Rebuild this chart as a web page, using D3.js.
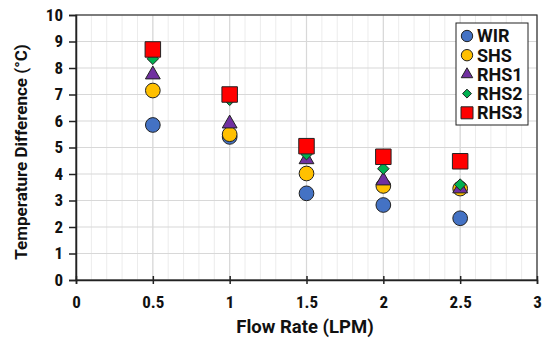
<!DOCTYPE html>
<html><head><meta charset="utf-8">
<script src="https://cdn.jsdelivr.net/npm/d3@7"></script>
<style>body{margin:0;background:#fff}svg{display:block}</style>
</head><body>
<script>
const flowRates = [0.5, 1, 1.5, 2, 2.5];
const seriesNames = ["WIR", "SHS", "RHS1", "RHS2", "RHS3"];
const WIR  = [5.85, 5.4, 3.27, 2.83, 2.33];
const SHS  = [7.15, 5.5, 4.02, 3.55, 3.45];
const RHS1 = [7.75, 5.9, 4.55, 3.75, 3.45];
const RHS2 = [8.35, 6.8, 4.75, 4.2, 3.6];
const RHS3 = [8.7, 7.0, 5.05, 4.65, 4.48];
const xTicks = [0, 0.5, 1, 1.5, 2, 2.5, 3];
const yTicks = [0,1,2,3,4,5,6,7,8,9,10];

const colors = {WIR:"#4472C4", SHS:"#FFC000", RHS1:"#7030A0", RHS2:"#00B050", RHS3:"#FF0000"};
const shapes = {WIR:d3.symbolCircle, SHS:d3.symbolCircle, RHS1:d3.symbolTriangle, RHS2:d3.symbolDiamond2 || d3.symbolDiamond, RHS3:d3.symbolSquare};
const sizes = {WIR:170, SHS:170, RHS1:95, RHS2:85, RHS3:240};
const data = {WIR, SHS, RHS1, RHS2, RHS3};

const W = 550, H = 343;
const m = {left:76, right:13, top:15, bottom:63};
const tickFont = "'Roboto Condensed','DejaVu Sans Condensed',Roboto,sans-serif";
const font = "Roboto,'DejaVu Sans',sans-serif";
const svg = d3.select("body").append("svg").attr("width", W).attr("height", H);
const x = d3.scaleLinear().domain([0,3]).range([m.left, W - m.right]);
const y = d3.scaleLinear().domain([0,10]).range([H - m.bottom, m.top]);

// minor vertical grid
svg.append("g").selectAll("line").data(d3.range(0, 3.0001, 0.1)).join("line")
  .attr("x1", d=>x(d)).attr("x2", d=>x(d)).attr("y1", y(0)).attr("y2", y(10))
  .attr("stroke", "#ececec").attr("stroke-width", 1);
// major vertical grid
svg.append("g").selectAll("line").data(xTicks).join("line")
  .attr("x1", d=>x(d)).attr("x2", d=>x(d)).attr("y1", y(0)).attr("y2", y(10))
  .attr("stroke", "#d8d8d8").attr("stroke-width", 1.2);
// horizontal grid
svg.append("g").selectAll("line").data(yTicks).join("line")
  .attr("x1", x(0)).attr("x2", x(3)).attr("y1", d=>y(d)).attr("y2", d=>y(d))
  .attr("stroke", "#d8d8d8").attr("stroke-width", 1.2);
// frame
svg.append("rect").attr("x", x(0)).attr("y", y(10)).attr("width", x(3)-x(0)).attr("height", y(0)-y(10))
  .attr("fill", "none").attr("stroke", "#333").attr("stroke-width", 1.2);

// axes
const xAxis = svg.append("g").attr("transform", `translate(0,${y(0)})`)
  .call(d3.axisBottom(x).tickValues(xTicks).tickFormat(d3.format("")).tickSize(4).tickPadding(12));
xAxis.selectAll(".tick line").attr("y1", -4).attr("stroke", "#222").attr("stroke-width", 1.5);
const yAxis = svg.append("g").attr("transform", `translate(${x(0)},0)`)
  .call(d3.axisLeft(y).tickValues(yTicks).tickFormat(d3.format("")).tickSize(7).tickPadding(6));
yAxis.selectAll(".tick line").attr("stroke", "#222").attr("stroke-width", 1.5);
[xAxis, yAxis].forEach(a => {
  a.select(".domain").attr("stroke", "#222").attr("stroke-width", 1.5);
  a.selectAll("text").attr("font-family", tickFont).attr("font-weight", "bold")
    .attr("font-size", 17).attr("fill", "#111");
});

// points
seriesNames.forEach(name => {
  svg.append("g").selectAll("path").data(data[name]).join("path")
    .attr("transform", (d,i) => `translate(${x(flowRates[i])},${y(d)})`)
    .attr("d", d3.symbol().type(shapes[name]).size(sizes[name]))
    .attr("fill", colors[name]).attr("stroke", "#222").attr("stroke-width", 1);
});

// axis titles
svg.append("text").attr("x", 305).attr("y", 333).attr("text-anchor", "middle")
  .attr("font-family", font).attr("font-weight", "bold").attr("font-size", 18.5).attr("fill", "#111")
  .text("Flow Rate (LPM)");
svg.append("text").attr("transform", `translate(27,152) rotate(-90)`)
  .attr("text-anchor", "middle")
  .attr("font-family", font).attr("font-weight", "bold").attr("font-size", 17).attr("fill", "#111")
  .text("Temperature Difference (°C)");

// legend
const lg = svg.append("g").attr("transform", "translate(456,23)");
lg.append("rect").attr("width", 72).attr("height", 102).attr("fill", "#fff")
  .attr("stroke", "#222").attr("stroke-width", 1);
seriesNames.forEach((name, i) => {
  const yy = 13 + i*19.2;
  lg.append("path").attr("transform", `translate(11,${yy})`)
    .attr("d", d3.symbol().type(shapes[name]).size(sizes[name]*0.6))
    .attr("fill", colors[name]).attr("stroke", "#222").attr("stroke-width", 1);
  lg.append("text").attr("x", 21).attr("y", yy).attr("dy", "0.36em")
    .attr("font-family", font).attr("font-weight", "bold").attr("font-size", 18).attr("fill", "#111")
    .text(name);
});
</script>
</body></html>
